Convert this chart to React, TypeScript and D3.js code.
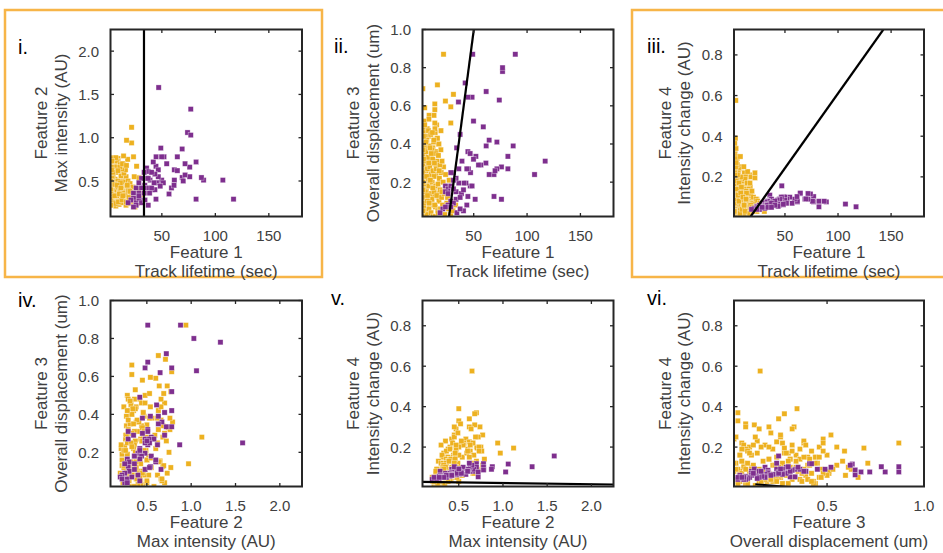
import React from 'react';
import * as d3 from 'd3';

// ---------- data ----------
const featureTitles = ['Feature 1', 'Feature 2', 'Feature 3', 'Feature 4'];
const featureUnits = ['Track lifetime (sec)', 'Max intensity (AU)', 'Overall displacement (um)', 'Intensity change (AU)'];
const featureDomains: [number, number][] = [[2, 181], [0.09, 2.25], [0.02, 1.0], [0.005, 0.925]];

const lifetimeTicks = [50, 100, 150];
const intensityTicks = [0.5, 1.0, 1.5, 2.0];
const displacementTicks = [0.2, 0.4, 0.6, 0.8, 1.0];
const displacementTicksShort = [0.5, 1.0];
const changeTicks = [0.2, 0.4, 0.6, 0.8];

const panelLabels = ['i.', 'ii.', 'iii.', 'iv.', 'v.', 'vi.'];
const panelPairs: [number, number][] = [[0, 1], [0, 2], [0, 3], [1, 2], [1, 3], [2, 3]];
const panelXTicks = [lifetimeTicks, lifetimeTicks, lifetimeTicks, intensityTicks, intensityTicks, displacementTicksShort];
const panelYTicks = [intensityTicks, displacementTicks, changeTicks, displacementTicks, changeTicks, changeTicks];
const highlightedPanels = [0, 2];

// decision boundaries, endpoints in data units
const boundaryLines: [number, number][][] = [
  [[33.3, 0.09], [33.3, 2.25]],
  [[26.9, 0.02], [50.1, 1.0]],
  [[17.7, 0.005], [142.7, 0.925]],
  [],
  [[0.09, 0.028], [2.25, 0.015]],
  [[0.13, 0.016], [0.33, 0.0]],
];

// tracks: [lifetime, max intensity, displacement, intensity change]
const purpleTracks: number[][] = [
  [47, 1.58, 0.25, 0.156], [77, 1.33, 0.78, 0.103], [74, 1.06, 0.63, 0.116], [77, 1.03, 0.80, 0.077],
  [49, 0.88, 0.87, 0.103], [69, 0.87, 0.24, 0.09], [89, 0.51, 0.87, 0.077], [76, 0.55, 0.28, 0.08],
  [117, 0.29, 0.31, 0.053], [107, 0.51, 0.24, 0.066], [87, 0.54, 0.39, 0.08], [82, 0.72, 0.335, 0.053],
  [82, 0.29, 0.27, 0.08], [76, 0.66, 0.11, 0.08], [71.7, 0.70, 0.41, 0.118], [69, 0.54, 0.125, 0.092],
  [71.7, 0.57, 0.27, 0.09], [64.5, 0.78, 0.42, 0.118], [61.7, 0.51, 0.675, 0.077], [61.7, 0.63, 0.39, 0.08],
  [59, 0.42, 0.49, 0.09], [56.7, 0.35, 0.29, 0.07], [54.5, 0.70, 0.29, 0.10], [52, 0.78, 0.335, 0.09],
  [49.8, 0.78, 0.52, 0.10], [48.5, 0.48, 0.645, 0.063], [44.6, 0.78, 0.645, 0.087], [44.5, 0.67, 0.36, 0.09],
  [46.7, 0.63, 0.35, 0.10], [49.8, 0.51, 0.32, 0.085], [51.4, 0.48, 0.11, 0.07], [46.7, 0.55, 0.18, 0.10],
  [42, 0.72, 0.72, 0.077], [39, 0.51, 0.31, 0.08], [45, 0.48, 0.27, 0.09], [42.7, 0.48, 0.195, 0.085],
  [44.5, 0.29, 0.125, 0.06], [35.7, 0.65, 0.62, 0.11], [37.3, 0.61, 0.45, 0.09], [34, 0.45, 0.38, 0.08],
  [36, 0.53, 0.27, 0.07], [43.5, 0.58, 0.27, 0.065], [36, 0.42, 0.195, 0.075], [41, 0.40, 0.195, 0.07],
  [48.5, 0.44, 0.18, 0.065], [38.5, 0.36, 0.14, 0.06], [43.5, 0.40, 0.08, 0.055], [33.5, 0.60, 0.15, 0.08],
  [31, 0.53, 0.25, 0.075], [28.5, 0.48, 0.25, 0.07], [33.5, 0.42, 0.22, 0.065], [31, 0.42, 0.21, 0.06],
  [23.5, 0.36, 0.18, 0.055], [26, 0.42, 0.165, 0.06], [28.5, 0.36, 0.18, 0.05], [31, 0.28, 0.165, 0.055],
  [23.5, 0.30, 0.15, 0.05], [26, 0.25, 0.14, 0.045], [33.5, 0.36, 0.11, 0.06], [28.5, 0.30, 0.10, 0.05],
  [31, 0.25, 0.09, 0.045], [26, 0.22, 0.08, 0.04], [21, 0.28, 0.06, 0.045], [23.5, 0.20, 0.07, 0.04],
  [18.5, 0.25, 0.04, 0.04], [28.5, 0.33, 0.07, 0.05], [40.4, 0.60, 0.16, 0.08], [37.3, 0.53, 0.12, 0.07],
  [40.4, 0.42, 0.05, 0.06], [34.2, 0.28, 0.04, 0.05], [37.3, 0.22, 0.06, 0.05], [64.5, 0.62, 0.24, 0.12],
  [61.4, 0.45, 0.30, 0.103], [70, 0.50, 0.26, 0.092],
];

const yellowTracks: number[][] = [
  // high intensity change
  [2.2, 0.70, 0.04, 0.37], [3.0, 0.50, 0.04, 0.33], [2.5, 0.52, 0.08, 0.315], [4.2, 0.62, 0.08, 0.30],
  [2.8, 0.68, 0.125, 0.31], [3.6, 0.65, 0.155, 0.576], [2.4, 0.64, 0.15, 0.29], [3.9, 0.62, 0.25, 0.34],
  [2.6, 0.68, 0.28, 0.365], [3.3, 0.50, 0.345, 0.39], [4.5, 0.74, 0.33, 0.30], [5.0, 0.47, 0.32, 0.29],
  [3.8, 0.77, 0.52, 0.26], [8.0, 0.45, 0.20, 0.30],
  // medium intensity change
  [2.1, 0.58, 0.02, 0.24], [3.4, 0.66, 0.06, 0.22], [4.8, 0.40, 0.10, 0.20], [5.5, 0.35, 0.14, 0.23],
  [6.3, 0.52, 0.18, 0.21], [7.2, 0.60, 0.22, 0.19], [8.8, 0.72, 0.26, 0.25], [9.5, 0.33, 0.30, 0.17],
  [10.4, 0.44, 0.34, 0.16], [11.8, 0.56, 0.38, 0.22], [12.5, 0.63, 0.42, 0.18], [13.9, 0.70, 0.46, 0.20],
  [15.2, 0.48, 0.50, 0.16], [16.6, 0.55, 0.12, 0.21], [18.0, 0.75, 0.20, 0.20], [14.8, 0.62, 0.24, 0.226],
  [12.8, 0.50, 0.16, 0.20], [2.9, 0.38, 0.36, 0.19], [3.7, 0.46, 0.28, 0.17], [4.4, 0.54, 0.44, 0.15],
  [5.9, 0.30, 0.07, 0.21], [6.8, 0.42, 0.48, 0.24], [7.7, 0.67, 0.05, 0.16], [9.1, 0.76, 0.32, 0.18],
  [10.9, 0.36, 0.24, 0.15], [12.2, 0.47, 0.08, 0.19], [14.5, 0.59, 0.29, 0.17], [17.3, 0.32, 0.40, 0.15],
  [2.3, 0.71, 0.69, 0.195], [4.0, 0.60, 0.59, 0.18], [6.0, 0.66, 0.48, 0.22], [21.7, 0.94, 0.87, 0.22],
  [21.7, 1.12, 0.28, 0.195], [17, 0.97, 0.14, 0.17], [8.2, 0.73, 0.55, 0.20], [11.2, 0.69, 0.13, 0.25],
  [5.1, 0.45, 0.26, 0.26], [3.1, 0.53, 0.38, 0.23], [14.2, 0.79, 0.36, 0.14],
  [2.1, 0.36, 0.48, 0.18], [2.6, 0.43, 0.27, 0.22], [3.2, 0.31, 0.11, 0.16], [3.9, 0.27, 0.34, 0.13],
  [4.5, 0.40, 0.06, 0.19], [5.3, 0.47, 0.39, 0.21], [7.4, 0.38, 0.44, 0.15], [15.5, 0.40, 0.31, 0.14],
  [3.5, 0.45, 0.03, 0.25], [4.1, 0.49, 0.21, 0.27],
  // large displacement
  [16, 0.63, 0.71, 0.12], [31, 0.33, 0.66, 0.05], [23.5, 0.78, 0.625, 0.09], [13.5, 0.33, 0.61, 0.10],
  [28.5, 0.54, 0.595, 0.06], [13.5, 0.45, 0.58, 0.13], [28.5, 0.53, 0.51, 0.07], [12.8, 0.64, 0.55, 0.11],
  [13.5, 0.69, 0.51, 0.08], [8, 0.37, 0.53, 0.09], [4, 0.28, 0.50, 0.06],
  // bulk
  [2.0, 0.47, 0.21, 0.06], [2.2, 0.33, 0.40, 0.11], [2.4, 0.34, 0.08, 0.02], [2.1, 0.26, 0.29, 0.09],
  [2.7, 0.42, 0.17, 0.13], [3.0, 0.39, 0.02, 0.04], [2.5, 0.31, 0.35, 0.08], [3.3, 0.22, 0.13, 0.01],
  [2.8, 0.44, 0.46, 0.15], [3.6, 0.37, 0.26, 0.05], [3.1, 0.30, 0.07, 0.12], [4.0, 0.76, 0.38, 0.09],
  [3.4, 0.28, 0.19, 0.03], [4.3, 0.36, 0.31, 0.14], [3.8, 0.43, 0.05, 0.07], [4.6, 0.24, 0.44, 0.02],
  [5.0, 0.48, 0.11, 0.10], [4.9, 0.35, 0.23, 0.06], [5.4, 0.41, 0.36, 0.04], [5.7, 0.28, 0.16, 0.08],
  [6.1, 0.45, 0.03, 0.12], [6.4, 0.26, 0.27, 0.02], [6.0, 0.35, 0.42, 0.07], [6.9, 0.77, 0.12, 0.11],
  [7.3, 0.45, 0.33, 0.05], [7.0, 0.21, 0.22, 0.03], [7.6, 0.32, 0.47, 0.09], [8.1, 0.38, 0.06, 0.13],
  [7.9, 0.40, 0.18, 0.04], [8.5, 0.27, 0.39, 0.06], [8.8, 0.50, 0.28, 0.10], [9.3, 0.30, 0.09, 0.02],
  [9.0, 0.43, 0.14, 0.08], [9.7, 0.32, 0.45, 0.12], [10.2, 0.36, 0.24, 0.05], [10.0, 0.23, 0.04, 0.03],
  [10.6, 0.66, 0.37, 0.07], [11.1, 0.40, 0.20, 0.14], [10.9, 0.27, 0.11, 0.09], [11.5, 0.29, 0.32, 0.04],
  [11.9, 0.44, 0.26, 0.06], [12.3, 0.46, 0.41, 0.11], [12.0, 0.33, 0.02, 0.08], [12.7, 0.34, 0.15, 0.02],
  [13.2, 0.70, 0.30, 0.13], [13.0, 0.25, 0.23, 0.05], [13.6, 0.29, 0.48, 0.07], [14.1, 0.42, 0.07, 0.10],
  [14.4, 0.41, 0.18, 0.04], [14.8, 0.31, 0.35, 0.09], [15.3, 0.38, 0.13, 0.06], [15.0, 0.49, 0.27, 0.12],
  [15.7, 0.37, 0.43, 0.03], [16.2, 0.30, 0.05, 0.08], [16.5, 0.22, 0.19, 0.05], [16.9, 0.68, 0.34, 0.10],
  [17.4, 0.44, 0.10, 0.07], [17.2, 0.33, 0.40, 0.04], [17.8, 0.35, 0.22, 0.11], [18.3, 0.27, 0.29, 0.06],
  [18.7, 0.43, 0.04, 0.09], [18.4, 0.50, 0.16, 0.03], [19.2, 0.39, 0.37, 0.08], [19.6, 0.28, 0.25, 0.05],
  [19.9, 0.24, 0.12, 0.07], [20.3, 0.47, 0.31, 0.10], [20.8, 0.35, 0.08, 0.04], [21.4, 0.37, 0.20, 0.07],
  [22.1, 0.26, 0.14, 0.05], [22.9, 0.43, 0.03, 0.09], [23.6, 0.21, 0.24, 0.03], [24.8, 0.20, 0.09, 0.05],
  [24.2, 0.55, 0.17, 0.08], [25.5, 0.30, 0.12, 0.06], [26.4, 0.67, 0.06, 0.07], [27.0, 0.24, 0.21, 0.04],
  [28.4, 0.40, 0.03, 0.04], [29.5, 0.32, 0.10, 0.05], [30.6, 0.27, 0.05, 0.03], [33.0, 0.36, 0.08, 0.05],
  [2.0, 0.32, 0.25, 0.10], [2.3, 0.38, 0.12, 0.07], [2.6, 0.29, 0.37, 0.03], [2.9, 0.66, 0.44, 0.12],
  [2.2, 0.50, 0.05, 0.16], [3.5, 0.73, 0.09, 0.18], [2.4, 0.41, 0.20, 0.14], [3.0, 0.63, 0.32, 0.21],
  [4.8, 0.25, 0.15, 0.09], [5.2, 0.46, 0.41, 0.14], [6.6, 0.46, 0.10, 0.17], [7.8, 0.33, 0.30, 0.02],
  [9.0, 0.62, 0.38, 0.15], [11.3, 0.48, 0.46, 0.05], [13.8, 0.36, 0.02, 0.12], [16.0, 0.34, 0.43, 0.02],
  [18.9, 0.39, 0.06, 0.13],
  [5.8, 0.33, 0.23, 0.11], [6.7, 0.24, 0.13, 0.08], [8.3, 0.45, 0.09, 0.12], [9.4, 0.26, 0.21, 0.04],
  [10.3, 0.35, 0.35, 0.10], [11.6, 0.42, 0.17, 0.06], [12.6, 0.28, 0.42, 0.03], [13.4, 0.33, 0.08, 0.09],
  [16.8, 0.26, 0.04, 0.02], [17.7, 0.45, 0.26, 0.06], [19.3, 0.31, 0.47, 0.05], [20.1, 0.38, 0.15, 0.03],
  [2.3, 0.22, 0.16, 0.03],
];

// ---------- layout ----------
const W = 943;
const H = 553;
const colX = [[110.5, 302], [422.5, 613.5], [734, 924]];
const rowY = [[29.5, 216.5], [300.5, 486.5]];
const YELLOW = '#EDB120';
const PURPLE = '#7E2F8E';
const BOX = '#F7B548';
const AXIS = '#262626';
const TEXT = '#404040';
const FONT = '"Liberation Sans", Arial, Helvetica, sans-serif';
const MS = 5.2;
const LABEL_SIZE = 17;

function fmt(v: number, integer: boolean) {
  return integer ? d3.format('d')(v) : d3.format('.1f')(v);
}

function Panel({ idx }: { idx: number }) {
  const col = idx % 3;
  const row = Math.floor(idx / 3);
  const [x0, x1] = colX[col];
  const [y0, y1] = rowY[row];
  const [fx, fy] = panelPairs[idx];
  const xs = d3.scaleLinear().domain(featureDomains[fx]).range([x0, x1]);
  const ys = d3.scaleLinear().domain(featureDomains[fy]).range([y1, y0]);
  const clipId = `clip-${idx}`;
  const xInt = fx === 0;
  const line = d3.line<[number, number]>().x(d => xs(d[0])).y(d => ys(d[1]));
  const tl = 3.5;
  const cy = (y0 + y1) / 2;
  return (
    <g>
      <defs>
        <clipPath id={clipId}>
          <rect x={x0} y={y0} width={x1 - x0} height={y1 - y0} />
        </clipPath>
      </defs>
      <g clipPath={`url(#${clipId})`}>
        {yellowTracks.map((t, i) => (
          <rect key={'y' + i} x={xs(t[fx]) - MS / 2} y={ys(t[fy]) - MS / 2} width={MS} height={MS}
            fill={YELLOW} stroke="#ffffff" strokeOpacity={0.55} strokeWidth={0.6} />
        ))}
        {purpleTracks.map((t, i) => (
          <rect key={'p' + i} x={xs(t[fx]) - MS / 2} y={ys(t[fy]) - MS / 2} width={MS} height={MS}
            fill={PURPLE} stroke="#ffffff" strokeOpacity={0.55} strokeWidth={0.6} />
        ))}
        {boundaryLines[idx].length > 0 && (
          <path d={line(boundaryLines[idx] as [number, number][]) || ''} stroke="#000" strokeWidth={2.2} fill="none" />
        )}
      </g>
      {panelXTicks[idx].map(v => (
        <g key={'xt' + v}>
          <line x1={xs(v)} x2={xs(v)} y1={y1} y2={y1 - tl} stroke={AXIS} strokeWidth={1.3} />
          <line x1={xs(v)} x2={xs(v)} y1={y0} y2={y0 + tl} stroke={AXIS} strokeWidth={1.3} />
          <text x={xs(v)} y={y1 + 18.5} textAnchor="middle" dominantBaseline="central" fontSize={15}
            fill={TEXT} fontFamily={FONT}>{fmt(v, xInt)}</text>
        </g>
      ))}
      {panelYTicks[idx].map(v => (
        <g key={'yt' + v}>
          <line x1={x0} x2={x0 + tl} y1={ys(v)} y2={ys(v)} stroke={AXIS} strokeWidth={1.3} />
          <line x1={x1} x2={x1 - tl} y1={ys(v)} y2={ys(v)} stroke={AXIS} strokeWidth={1.3} />
          <text x={x0 - 11.5} y={ys(v)} textAnchor="end" dominantBaseline="central" fontSize={15}
            fill={TEXT} fontFamily={FONT}>{fmt(v, false)}</text>
        </g>
      ))}
      <rect x={x0} y={y0} width={x1 - x0} height={y1 - y0} fill="none" stroke={AXIS} strokeWidth={2} />
      <text x={(x0 + x1) / 2} y={y1 + 35.5} textAnchor="middle" dominantBaseline="central" fontSize={LABEL_SIZE}
        fill={TEXT} fontFamily={FONT}>{featureTitles[fx]}</text>
      <text x={(x0 + x1) / 2} y={y1 + 55} textAnchor="middle" dominantBaseline="central" fontSize={LABEL_SIZE}
        fill={TEXT} fontFamily={FONT}>{featureUnits[fx]}</text>
      <text transform={`translate(${x0 - 69},${cy}) rotate(-90)`} textAnchor="middle" dominantBaseline="central"
        fontSize={LABEL_SIZE} fill={TEXT} fontFamily={FONT}>{featureTitles[fy]}</text>
      <text transform={`translate(${x0 - 49.5},${cy}) rotate(-90)`} textAnchor="middle" dominantBaseline="central"
        fontSize={LABEL_SIZE} fill={TEXT} fontFamily={FONT}>{featureUnits[fy]}</text>
    </g>
  );
}

const labelPos: [number, number][] = [[18, 54], [334, 53], [647, 53], [18, 307], [331, 305], [647, 305]];
const boxRects = [[5, 10, 322, 277], [632, 10, 946, 277]];

export default function App() {
  return (
    <svg width={W} height={H} style={{ position: 'absolute', left: 0, top: 0, background: '#fff' }}>
      <rect x={0} y={0} width={W} height={H} fill="#fff" />
      {highlightedPanels.map((p, i) => {
        const [bx0, by0, bx1, by1] = boxRects[i];
        return <rect key={'box' + p} x={bx0} y={by0} width={bx1 - bx0} height={by1 - by0} fill="none" stroke={BOX} strokeWidth={2.5} />;
      })}
      {panelLabels.map((_, i) => <Panel key={i} idx={i} />)}
      {panelLabels.map((l, i) => (
        <text key={'lbl' + i} x={labelPos[i][0]} y={labelPos[i][1]} fontSize={20} fill="#000" fontFamily={FONT}>{l}</text>
      ))}
    </svg>
  );
}
